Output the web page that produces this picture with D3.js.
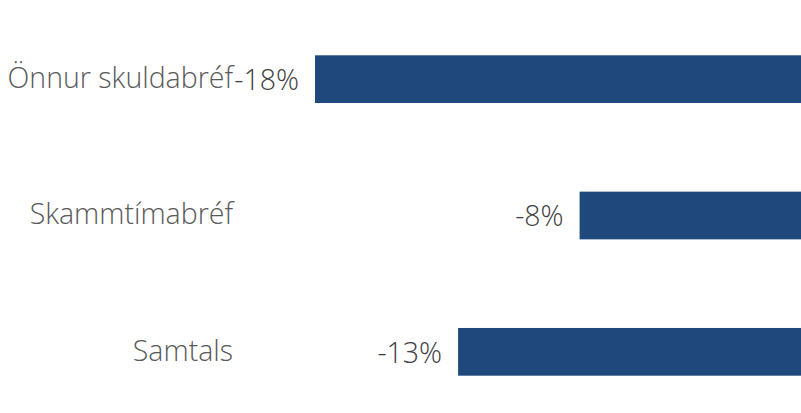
<!DOCTYPE html>
<html>
    <head>
        <meta charset="utf-8">
        <title>Skuldabréf</title>
        <style>
            body {margin:0; background:#fff;}
            .cat {fill:#595959; font-family:'Open Sans', sans-serif; font-weight:300;}
            .val {fill:#404040; font-family:'Open Sans', sans-serif; font-weight:300;}
        </style>
        <script src="https://d3js.org/d3.v7.min.js"></script>
    </head>
    <body>
        <div id="chart"></div>
        <script>
            var categories = ['Önnur skuldabréf', 'Skammtímabréf', 'Samtals'];
            var values = [-18.0, -8.2, -12.7];
            var valueLabels = ['-18%', '-8%', '-13%'];

            var width = 801, height = 413;

            var svg = d3.select('#chart').append('svg')
                .attr('width', width)
                .attr('height', height);

            // zero sits at the right edge, bars grow to the left
            var x = d3.scaleLinear().domain([-20, 0]).range([261, 801]);
            var y = d3.scaleBand().domain(categories).range([11, 420])
                .paddingInner(0.65).paddingOuter(0.325);

            svg.selectAll('rect.bar')
                .data(values)
                .enter().append('rect')
                .attr('class', 'bar')
                .attr('x', function(d) { return x(d); })
                .attr('y', function(d, i) { return y(categories[i]); })
                .attr('width', function(d) { return x(0) - x(d); })
                .attr('height', y.bandwidth())
                .attr('fill', '#1F497D');

            svg.selectAll('text.val')
                .data(values)
                .enter().append('text')
                .attr('class', 'val')
                .attr('x', function(d) { return x(d) - 16; })
                .attr('y', function(d, i) { return y(categories[i]) + y.bandwidth() / 2 + 1; })
                .attr('dy', '0.35em')
                .attr('text-anchor', 'end')
                .style('font-size', '28.5px')
                .text(function(d, i) { return valueLabels[i]; });

            svg.selectAll('text.cat')
                .data(categories)
                .enter().append('text')
                .attr('class', 'cat')
                .attr('x', 233)
                .attr('y', function(d) { return y(d) + y.bandwidth() / 2 - 1; })
                .attr('dy', '0.35em')
                .attr('text-anchor', 'end')
                .style('font-size', '28.5px')
                .text(function(d) { return d; });
        </script>
    </body>
</html>
